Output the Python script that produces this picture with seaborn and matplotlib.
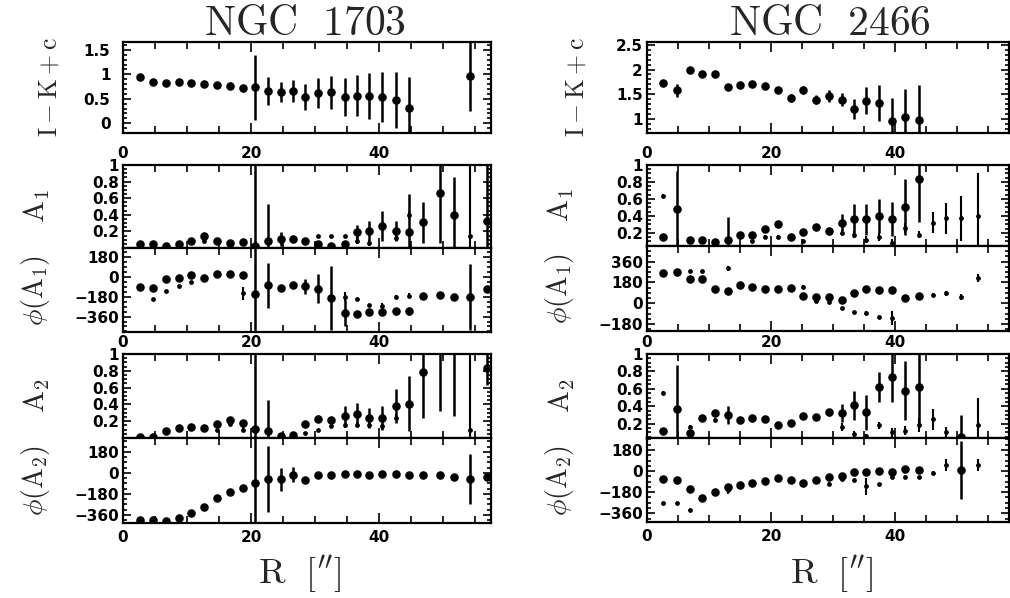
import numpy as np
import matplotlib
matplotlib.use("Agg")
import matplotlib.pyplot as plt
from matplotlib.ticker import MultipleLocator, FixedLocator, FuncFormatter, NullFormatter
import seaborn as sns

nan = np.nan

# ---------------- NGC 1703 ----------------
r_1703 = [2.7, 4.7, 6.7, 8.7, 10.6, 12.7, 14.7, 16.7, 18.7, 20.6, 22.7, 24.7, 26.6, 28.5,
          30.5, 32.5, 34.6, 36.5, 38.5, 40.5, 42.6, 44.7, 46.9, 49.5, 51.7, 54.2, 56.8]

ik_1703 = [0.95, 0.85, 0.82, 0.84, 0.82, 0.80, 0.78, 0.77, 0.71, 0.73, 0.66, 0.64, 0.66, 0.53,
           0.62, 0.63, 0.54, 0.56, 0.55, 0.54, 0.47, 0.32, nan, nan, nan, 0.96, nan]
ik_err_1703 = [0.02, 0.02, 0.03, 0.03, 0.04, 0.05, 0.06, 0.08, 0.08, 0.66, 0.29, 0.20, 0.23, 0.27,
               0.30, 0.33, 0.39, 0.42, 0.47, 0.51, 0.57, 0.63, nan, nan, nan, 0.72, nan]

a1_1703 = [0.045, 0.045, 0.03, 0.05, 0.085, 0.14, 0.085, 0.06, 0.07, 0.02, 0.08, 0.11, 0.11, 0.08,
           0.045, 0.03, 0.045, 0.19, 0.21, 0.27, 0.21, 0.19, 0.31, 0.66, 0.40, nan, 0.32]
a1_err_1703 = [0.01, 0.01, 0.01, 0.01, 0.02, 0.03, 0.03, 0.02, 0.02, 1.0, 0.45, 0.08, 0.03, 0.03,
               0.02, 0.02, 0.02, 0.09, 0.12, 0.18, 0.12, 0.46, 0.25, 0.6, 0.45, nan, 0.7]
a1s_1703 = [nan, nan, nan, nan, nan, 0.09, nan, nan, nan, nan, nan, nan, nan, nan,
            0.14, 0.14, 0.14, 0.09, 0.06, nan, 0.12, 0.40, nan, nan, nan, 0.15, nan]
a1s_err_1703 = [nan, nan, nan, nan, nan, 0.01, nan, nan, nan, nan, nan, nan, nan, nan,
                0.01, 0.01, 0.01, 0.04, 0.04, nan, 0.04, 0.05, nan, nan, nan, 0.85, nan]

pa1_1703 = [-94, -103, -18, -9, 12, -9, 27, 21, 12, -155, -79, -103, -79, -88,
            -109, -191, -330, -337, -316, -322, -313, -313, -170, -164, -185, -185, -109]
pa1_err_1703 = [8, 15, 15, 10, 12, 10, 10, 25, 20, 700, 200, 15, 20, 70,
                130, 290, 120, 10, 10, 25, 30, 35, 20, 10, 20, 300, 25]
pa1s_1703 = [nan, -200, -130, -88, -49, nan, nan, nan, -149, nan, nan, nan, nan, nan,
             nan, nan, -179, -200, -252, -261, -185, -170, nan, nan, nan, nan, nan]
pa1s_err_1703 = [nan, 5, 5, 5, 5, nan, nan, nan, 60, nan, nan, nan, nan, nan,
                 nan, nan, 40, 5, 5, 20, 20, 20, nan, nan, nan, nan, nan]

a2_1703 = [0.01, 0.01, 0.08, 0.12, 0.13, 0.12, 0.17, 0.22, 0.18, 0.11, 0.08, 0.02, 0.03, 0.17,
           0.23, 0.22, 0.26, 0.28, 0.24, 0.24, 0.38, 0.41, 0.79, 1.1, 1.1, nan, 0.83]
a2_err_1703 = [0.01, 0.01, 0.02, 0.03, 0.03, 0.03, 0.03, 0.03, 0.04, 1.0, 0.37, 0.01, 0.01, 0.03,
               0.04, 0.03, 0.12, 0.14, 0.12, 0.14, 0.2, 0.33, 0.55, 0.78, 0.84, nan, 0.2]
a2s_1703 = [nan, nan, nan, nan, nan, nan, 0.10, 0.17, 0.10, nan, nan, nan, nan, 0.06,
            0.10, 0.14, 0.15, 0.16, 0.15, 0.14, 0.24, nan, nan, nan, nan, 0.10, nan]
a2s_err_1703 = [nan, nan, nan, nan, nan, nan, 0.01, 0.01, 0.03, nan, nan, nan, nan, 0.01,
                0.01, 0.02, 0.03, 0.03, 0.03, 0.03, 0.04, nan, nan, nan, nan, 0.9, nan]

pa2_1703 = [-405, -405, -410, -385, -348, -291, -214, -163, -129, -84, -55, -55, -15, -64,
            -15, -15, -7, -10, -15, -7, -7, -15, -21, -21, -35, -50, -35]
pa2_err_1703 = [5, 5, 8, 8, 10, 10, 10, 10, 10, 800, 284, 100, 64, 10,
                8, 8, 8, 8, 8, 8, 8, 8, 8, 8, 8, 213, 20]

# ---------------- NGC 2466 ----------------
r_2466 = [2.6, 4.9, 6.9, 8.9, 11.0, 13.0, 15.0, 17.0, 19.0, 21.1, 23.2, 25.2, 27.3, 29.4,
          31.4, 33.4, 35.4, 37.5, 39.6, 41.7, 43.8, 46.1, 48.3, 50.7, 53.4]

ik_2466 = [1.72, 1.58, 2.0, 1.9, 1.9, 1.65, 1.68, 1.70, 1.66, 1.59, 1.42, 1.58, 1.39, 1.46,
           1.39, 1.20, 1.37, 1.32, 0.95, 1.03, 0.98, nan, nan, nan, nan]
ik_err_2466 = [0.03, 0.13, 0.03, 0.03, 0.03, 0.06, 0.04, 0.05, 0.03, 0.05, 0.08, 0.08, 0.10, 0.12,
               0.14, 0.20, 0.28, 0.36, 0.47, 0.57, 0.70, nan, nan, nan, nan]

a1_2466 = [0.15, 0.48, 0.11, 0.11, 0.09, 0.11, 0.18, 0.18, 0.25, 0.30, 0.15, 0.21, 0.27, 0.22,
           0.32, 0.36, 0.36, 0.40, 0.36, 0.51, 0.83, nan, nan, nan, nan]
a1_err_2466 = [0.02, 0.45, 0.01, 0.01, 0.04, 0.28, 0.02, 0.03, 0.03, 0.03, 0.03, 0.03, 0.04, 0.04,
               0.10, 0.18, 0.18, 0.20, 0.20, 0.33, 0.50, nan, nan, nan, nan]
a1s_2466 = [0.64, nan, nan, nan, nan, nan, nan, 0.10, 0.15, 0.15, nan, 0.10, nan, nan,
            0.20, 0.18, 0.12, 0.15, 0.08, 0.26, 0.18, 0.32, 0.37, 0.37, 0.40]
a1s_err_2466 = [0.02, nan, nan, nan, nan, nan, nan, 0.02, 0.02, 0.02, nan, 0.02, nan, nan,
                0.03, 0.04, 0.04, 0.05, 0.05, 0.06, 0.04, 0.12, 0.18, 0.27, 0.50]

pa1_2466 = [261, 273, 210, 210, 124, 109, 161, 144, 124, 124, 132, 66, 57, 52,
            29, 89, 124, 115, 115, 46, 66, nan, nan, nan, nan]
pa1_err_2466 = [8, 8, 8, 8, 8, 8, 8, 8, 8, 8, 8, 15, 15, 15,
                15, 10, 8, 8, 8, 25, 15, nan, nan, nan, nan]
pa1s_2466 = [nan, nan, 282, 282, nan, 302, nan, nan, nan, nan, nan, 144, 17, 9,
             -40, -78, -83, -121, -126, nan, nan, 75, 86, 57, 218]
pa1s_err_2466 = [nan, nan, 5, 5, nan, 20, nan, nan, nan, nan, nan, 10, 10, 10,
                 8, 8, 15, 8, 60, nan, nan, 15, 20, 25, 35]

a2_2466 = [0.115, 0.37, 0.09, 0.26, 0.32, 0.30, 0.24, 0.26, 0.25, 0.19, 0.21, 0.29, 0.28, 0.33,
           0.32, 0.41, 0.33, 0.62, 0.74, 0.58, 0.62, nan, nan, 0.05, nan]
a2_err_2466 = [0.01, 0.50, 0.02, 0.02, 0.02, 0.10, 0.03, 0.02, 0.02, 0.02, 0.02, 0.03, 0.03, 0.04,
               0.10, 0.17, 0.20, 0.17, 0.29, 0.34, 0.46, nan, nan, 0.25, nan]
a2s_2466 = [0.55, nan, 0.16, nan, 0.24, nan, nan, nan, nan, nan, nan, nan, nan, nan,
            0.16, 0.08, 0.06, 0.18, 0.10, 0.12, 0.18, 0.25, 0.10, nan, 0.18]
a2s_err_2466 = [0.02, nan, 0.02, nan, 0.02, nan, nan, nan, nan, nan, nan, nan, nan, nan,
                0.05, 0.04, 0.02, 0.04, 0.05, 0.05, 0.08, 0.12, 0.06, nan, 0.32]

pa2_2466 = [-70, -76, -155, -226, -180, -133, -118, -98, -84, -56, -76, -98, -76, -47,
            -39, -10, -10, 4, -10, 15, 9, nan, nan, 9, nan]
pa2_err_2466 = [8, 8, 10, 10, 8, 12, 8, 8, 8, 8, 8, 8, 8, 10,
                10, 10, 10, 8, 10, 10, 10, nan, nan, 250, nan]
pa2s_2466 = [-269, -269, -331, nan, nan, -165, nan, nan, nan, nan, nan, nan, nan, -110,
             -70, -75, -130, -110, -47, -47, -47, -13, 52, nan, 52]
pa2s_err_2466 = [5, 5, 5, nan, nan, 30, nan, nan, nan, nan, nan, nan, nan, 15,
                 8, 8, 75, 10, 8, 8, 8, 15, 50, nan, 50]

# ---------------- styling ----------------
sns.set_theme(style="ticks")
plt.rcParams.update({
    "font.family": ["DejaVu Sans"],
    "font.weight": "bold",
    "mathtext.fontset": "cm",
    "axes.edgecolor": "black",
    "axes.linewidth": 1.6,
    "xtick.color": "black",
    "ytick.color": "black",
    "xtick.labelsize": 11,
    "ytick.labelsize": 11,
    "figure.facecolor": "white",
    "axes.facecolor": "white",
})

W, H = 1010, 598
fig = plt.figure(figsize=(W / 100, H / 100), dpi=100)


def rect(x0, x1, yt, yb):
    return [x0 / W, 1 - yb / H, (x1 - x0) / W, (yb - yt) / H]


def num(v, pos=None):
    return f"{v:g}".replace("-", "\u2212")


def draw(ax, r, val, err, sval=None, serr=None):
    r = np.asarray(r, float)
    for vals, errs, size, lw in ((val, err, 38, 1.8), (sval, serr, 12, 1.5)):
        if vals is None:
            continue
        v = np.asarray(vals, float)
        e = np.nan_to_num(np.asarray(errs, float))
        m = ~np.isnan(v)
        ax.errorbar(r[m], v[m], yerr=e[m], fmt="none", ecolor="black",
                    elinewidth=lw, capsize=0, zorder=2)
        sns.scatterplot(x=r[m], y=v[m], ax=ax, s=size, color="black",
                        edgecolor="black", linewidth=0, zorder=3, legend=False)


def style(ax, xmax, ylim, yticks, yminor, xlab_pad, ylab_pad, show_x):
    ax.set_xlim(0, xmax)
    ax.set_ylim(*ylim)
    ax.xaxis.set_major_locator(FixedLocator([0, 20, 40]))
    ax.xaxis.set_minor_locator(MultipleLocator(5))
    ax.yaxis.set_major_locator(FixedLocator(yticks))
    ax.yaxis.set_minor_locator(MultipleLocator(yminor))
    ax.yaxis.set_major_formatter(FuncFormatter(num))
    if show_x:
        ax.xaxis.set_major_formatter(FuncFormatter(num))
    else:
        ax.xaxis.set_major_formatter(NullFormatter())
    ax.tick_params(which="both", direction="in", top=True, right=True, width=1.2)
    ax.tick_params(axis="x", which="major", length=7, pad=xlab_pad)
    ax.tick_params(axis="x", which="minor", length=5)
    ax.tick_params(axis="y", which="major", length=6, pad=ylab_pad)
    ax.tick_params(axis="y", which="minor", length=3)
    ax.set_xlabel("")
    ax.set_ylabel("")
    for sp in ax.spines.values():
        sp.set_linewidth(1.6)
        sp.set_visible(True)


galaxies = [
    dict(name=r"$\rm NGC\ \ 1703$", x0=123, x1=490.5, xmax=57.4, r=r_1703,
         rows=[(42, 133), (165, 248), (248, 332), (354, 438), (438, 523)],
         data=[(ik_1703, ik_err_1703, None, None),
               (a1_1703, a1_err_1703, a1s_1703, a1s_err_1703),
               (pa1_1703, pa1_err_1703, pa1s_1703, pa1s_err_1703),
               (a2_1703, a2_err_1703, a2s_1703, a2s_err_1703),
               (pa2_1703, pa2_err_1703, None, None)],
         ylims=[(-0.2, 1.66), (0, 1), (-500, 260), (0, 1), (-430, 300)],
         yticks=[[0, 0.5, 1, 1.5], [0.2, 0.4, 0.6, 0.8, 1], [-360, -180, 0, 180],
                 [0.2, 0.4, 0.6, 0.8, 1], [-360, -180, 0, 180]],
         xpads=[9, None, 2, None, 5], ypads=[9, 3, 3, 3, 3],
         labx=[50, 37, 35, 37, 35], title_x=305, xlabel_x=300),
    dict(name=r"$\rm NGC\ \ 2466$", x0=647, x1=1009, xmax=58.4, r=r_2466,
         rows=[(42, 133), (165, 246), (246, 331), (354, 438), (438, 522)],
         data=[(ik_2466, ik_err_2466, None, None),
               (a1_2466, a1_err_2466, a1s_2466, a1s_err_2466),
               (pa1_2466, pa1_err_2466, pa1s_2466, pa1s_err_2466),
               (a2_2466, a2_err_2466, a2s_2466, a2s_err_2466),
               (pa2_2466, pa2_err_2466, pa2s_2466, pa2s_err_2466)],
         ylims=[(0.71, 2.56), (0.045, 1.0), (-240, 495), (0.035, 1.0), (-434, 282)],
         yticks=[[1, 1.5, 2, 2.5], [0.2, 0.4, 0.6, 0.8, 1], [-180, 0, 180, 360],
                 [0.2, 0.4, 0.6, 0.8, 1], [-360, -180, 0, 180]],
         xpads=[9, None, 3, None, 5], ypads=[3, 3, 3, 3, 3],
         labx=[577, 561, 559, 562, 559], title_x=830, xlabel_x=832),
]

ylabels = [r"$\rm I-K+c$", r"$\rm A_1$", r"$\phi\rm(A_1)$", r"$\rm A_2$", r"$\phi\rm(A_2)$"]
ylabel_sizes = [18.5, 21, 20, 21, 20]
yminors = [0.1, 0.05, 45, 0.05, 45]

for g in galaxies:
    for k, (yt, yb) in enumerate(g["rows"]):
        ax = fig.add_axes(rect(g["x0"], g["x1"], yt, yb))
        v, e, sv, se = g["data"][k]
        draw(ax, g["r"], v, e, sv, se)
        show_x = g["xpads"][k] is not None
        style(ax, g["xmax"], g["ylims"][k], g["yticks"][k], yminors[k],
              g["xpads"][k] if show_x else 3, g["ypads"][k], show_x)
        fig.text(g["labx"][k] / W, 1 - (yt + yb) / 2 / H, ylabels[k], rotation=90,
                 ha="center", va="center", fontsize=ylabel_sizes[k])
    fig.text(g["title_x"] / W, 1 - 23 / H, g["name"], ha="center", va="center", fontsize=30)
    fig.text(g["xlabel_x"] / W, 1 - 574 / H, r"$\rm R\ \ [{}^{\prime\prime}]$",
             ha="center", va="center", fontsize=26)

fig.savefig("out.png", dpi=100)
